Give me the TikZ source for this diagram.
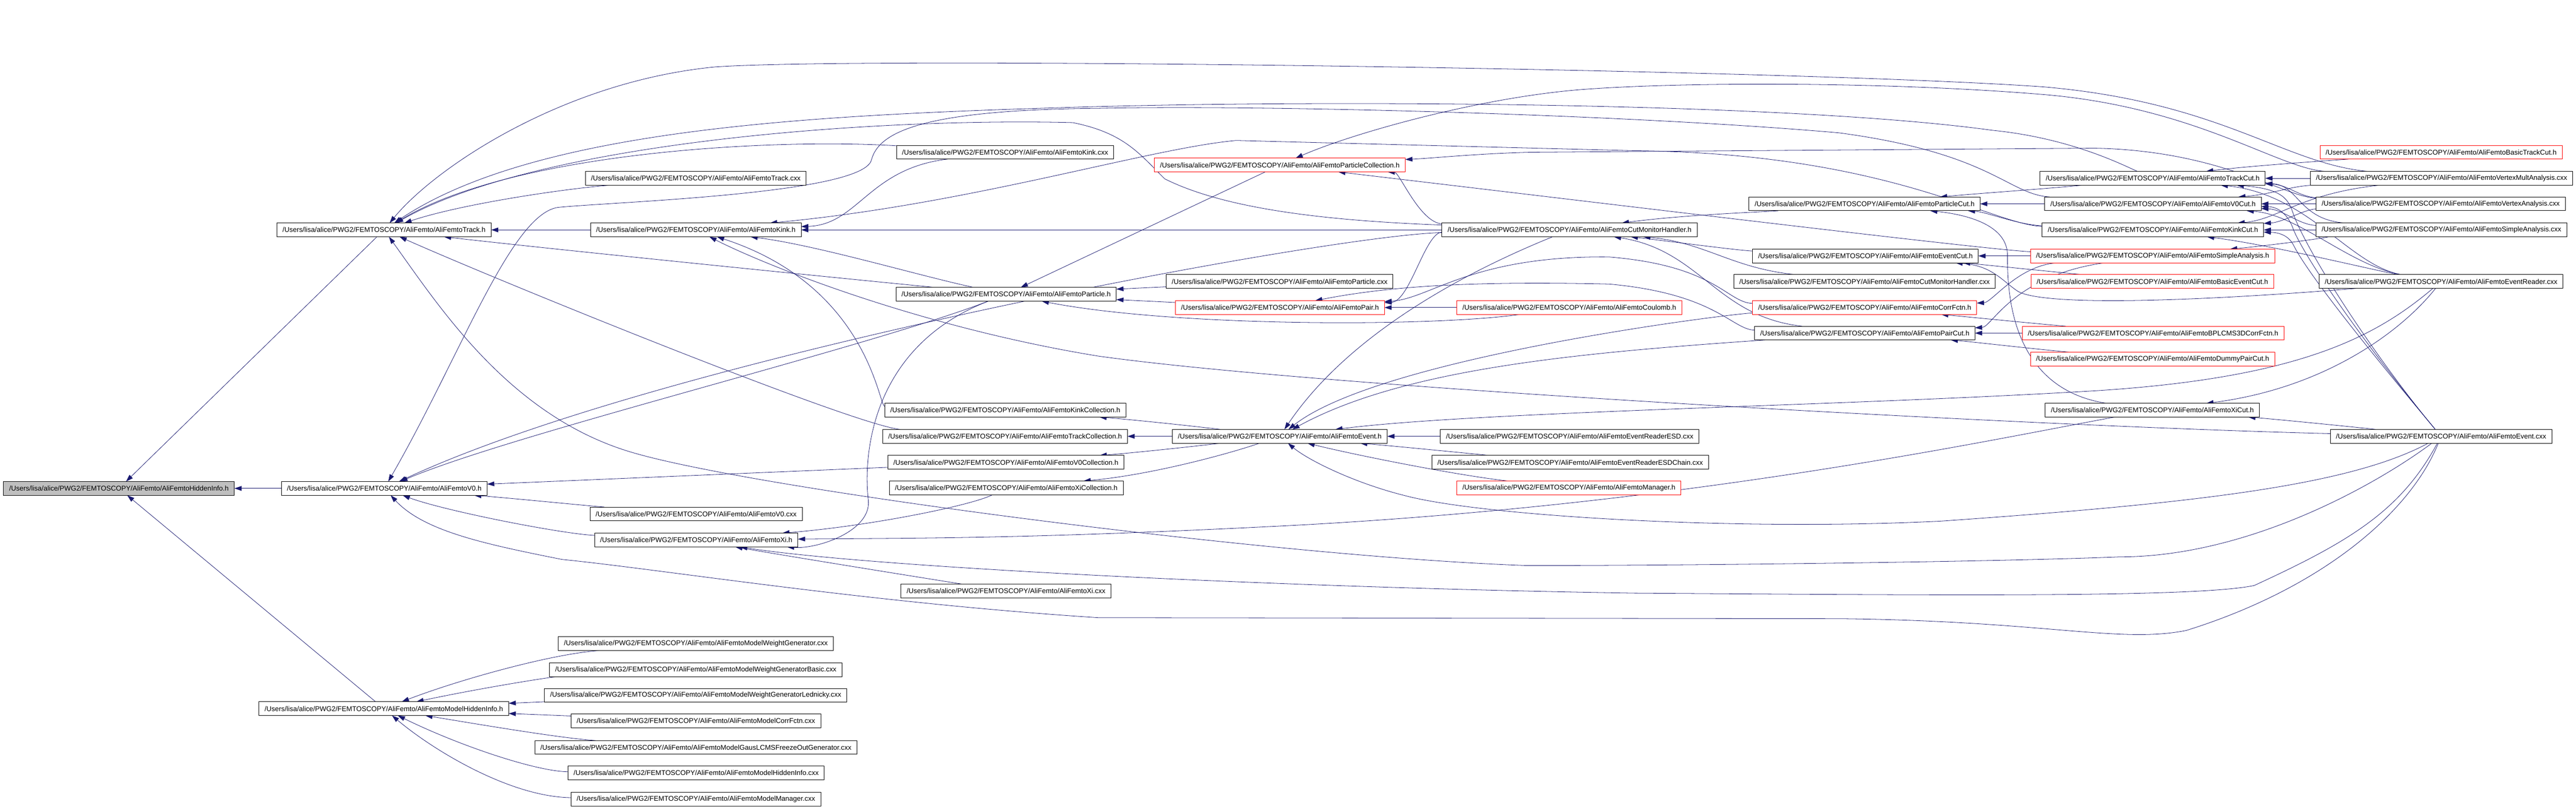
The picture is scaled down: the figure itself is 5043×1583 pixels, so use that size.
\documentclass[tikz,border=0pt]{standalone}
\usepackage{fontspec}
\newfontfamily\dox{Liberation Sans}
\usetikzlibrary{arrows.meta}
\pgfdeclarelayer{edges}
\pgfsetlayers{edges,main}
\definecolor{incblue}{RGB}{25,25,112}
\newcommand{\fp}{/Users/lisa/alice/PWG2/FEMTOSCOPY/AliFemto/}
\tikzset{every picture/.style={line width=0.5pt}}
\tikzset{
  file/.style={draw=black, fill=white, font=\dox\fontsize{6.8}{8}\selectfont, inner xsep=5.5pt, inner ysep=0pt, minimum height=13.5pt, anchor=west, outer sep=0pt},
  truncfile/.style={file, draw=red},
  rootfile/.style={file, fill={rgb,255:red,191;green,191;blue,191}},
  inc/.style={draw=incblue, -{Triangle[length=7pt,width=4.6pt]}}
}
\begin{document}
\begin{tikzpicture}[x=0.5pt,y=0.5pt,yscale=-1]
\useasboundingbox (0,0) rectangle (5043,1583);

%Files, column by column
\node[rootfile] (hid) at (7,956) {\fp AliFemtoHiddenInfo.h};
\node[file] (trk) at (542,450) {\fp AliFemtoTrack.h};
\node[file] (vzero) at (551,956) {\fp AliFemtoV0.h};
\node[file] (mhid) at (507,1387) {\fp AliFemtoModelHiddenInfo.h};
\node[file] (trkcxx) at (1146,349) {\fp AliFemtoTrack.cxx};
\node[file] (kink) at (1156,450) {\fp AliFemtoKink.h};
\node[file] (vzcxx) at (1155,1006) {\fp AliFemtoV0.cxx};
\node[file] (xi) at (1164,1057) {\fp AliFemtoXi.h};
\node[file] (mwg) at (1093,1260) {\fp AliFemtoModelWeightGenerator.cxx};
\node[file] (mwgb) at (1076,1311) {\fp AliFemtoModelWeightGeneratorBasic.cxx};
\node[file] (mwgl) at (1066,1361) {\fp AliFemtoModelWeightGeneratorLednicky.cxx};
\node[file] (mcf) at (1118,1411) {\fp AliFemtoModelCorrFctn.cxx};
\node[file] (mgaus) at (1047,1463) {\fp AliFemtoModelGausLCMSFreezeOutGenerator.cxx};
\node[file] (mhidcxx) at (1112,1513) {\fp AliFemtoModelHiddenInfo.cxx};
\node[file] (mman) at (1118,1564) {\fp AliFemtoModelManager.cxx};
\node[file] (kinkcxx) at (1755,298) {\fp AliFemtoKink.cxx};
\node[file] (part) at (1754,576) {\fp AliFemtoParticle.h};
\node[file] (kinkcoll) at (1732,803) {\fp AliFemtoKinkCollection.h};
\node[file] (trkcoll) at (1728,854) {\fp AliFemtoTrackCollection.h};
\node[file] (vzcoll) at (1738,905) {\fp AliFemtoV0Collection.h};
\node[file] (xicoll) at (1741,955) {\fp AliFemtoXiCollection.h};
\node[file] (xicxx) at (1764,1157) {\fp AliFemtoXi.cxx};
\node[truncfile] (partcoll) at (2260,323) {\fp AliFemtoParticleCollection.h};
\node[file] (partcxx) at (2283,551) {\fp AliFemtoParticle.cxx};
\node[truncfile] (pair) at (2301,602) {\fp AliFemtoPair.h};
\node[file] (ev) at (2295,854) {\fp AliFemtoEvent.h};
\node[file] (cmh) at (2823,450) {\fp AliFemtoCutMonitorHandler.h};
\node[truncfile] (coul) at (2852,602) {\fp AliFemtoCoulomb.h};
\node[file] (esd) at (2820,854) {\fp AliFemtoEventReaderESD.cxx};
\node[file] (esdch) at (2803,905) {\fp AliFemtoEventReaderESDChain.cxx};
\node[truncfile] (man) at (2852,955) {\fp AliFemtoManager.h};
\node[file] (pcut) at (3424,399) {\fp AliFemtoParticleCut.h};
\node[file] (evcut) at (3431,501) {\fp AliFemtoEventCut.h};
\node[file] (cmhcxx) at (3394,551) {\fp AliFemtoCutMonitorHandler.cxx};
\node[truncfile] (corr) at (3431,602) {\fp AliFemtoCorrFctn.h};
\node[file] (paircut) at (3435,652) {\fp AliFemtoPairCut.h};
\node[file] (trkcut) at (3994,349) {\fp AliFemtoTrackCut.h};
\node[file] (vzcut) at (4003,399) {\fp AliFemtoV0Cut.h};
\node[file] (kinkcut) at (3998,450) {\fp AliFemtoKinkCut.h};
\node[truncfile] (sah) at (3975,501) {\fp AliFemtoSimpleAnalysis.h};
\node[truncfile] (bec) at (3976,551) {\fp AliFemtoBasicEventCut.h};
\node[truncfile] (bpl) at (3959,652) {\fp AliFemtoBPLCMS3DCorrFctn.h};
\node[truncfile] (dpc) at (3975,703) {\fp AliFemtoDummyPairCut.h};
\node[file] (xicut) at (4004,803) {\fp AliFemtoXiCut.h};
\node[truncfile] (btc) at (4542,298) {\fp AliFemtoBasicTrackCut.h};
\node[file] (vmacxx) at (4523,349) {\fp AliFemtoVertexMultAnalysis.cxx};
\node[file] (vacxx) at (4534,399) {\fp AliFemtoVertexAnalysis.cxx};
\node[file] (sacxx) at (4534,450) {\fp AliFemtoSimpleAnalysis.cxx};
\node[file] (evrcxx) at (4540,551) {\fp AliFemtoEventReader.cxx};
\node[file] (evcxx) at (4562,854) {\fp AliFemtoEvent.cxx};

\begin{pgfonlayer}{edges}
%into HiddenInfo
\draw[inc] (trk) -- (hid);
\draw[inc] (vzero) -- (hid);
\draw[inc] (mhid) -- (hid);
%into Track
\draw[inc] (vmacxx) .. controls (4470,320) and (4350,200) .. (4000,170) .. controls (3500,135) and (1700,110) .. (1400,131) .. controls (1100,160) and (850,330) .. (trk);
\draw[inc] (trkcut) .. controls (4150,320) and (4050,270) .. (3900,255) .. controls (3500,200) and (2600,195) .. (2100,210) .. controls (1600,225) and (1050,250) .. (trk);
\draw[inc] (cmh) .. controls (2600,432) and (2400,410) .. (2280,350) .. controls (2230,300) and (2200,260) .. (2100,240) .. controls (1700,230) and (1050,280) .. (trk);
\draw[inc] (kinkcxx) .. controls (1500,270) and (1000,300) .. (trk);
\draw[inc] (trkcxx) .. controls (1100,370) and (900,400) .. (trk);
\draw[inc] (kink) -- (trk);
\draw[inc] (part) .. controls (1700,550) and (1100,490) .. (trk);
\draw[inc] (trkcoll) .. controls (1680,835) and (1000,560) .. (trk);
\draw[inc] (evcxx) .. controls (4650,950) and (4400,1090) .. (4150,1090) .. controls (3900,1100) and (3300,1107) .. (2990,1107) .. controls (2500,1090) and (1500,960) .. (1246,888) .. controls (1000,820) and (860,600) .. (trk);
%into V0
\draw[inc] (vzcut) .. controls (3930,380) and (3900,300) .. (3600,260) .. controls (3200,225) and (2500,205) .. (2150,212) .. controls (1800,215) and (1720,260) .. (1706,313) .. controls (1690,380) and (1200,395) .. (1092,406) .. controls (1000,420) and (900,700) .. (vzero);
\draw[inc] (cmh) .. controls (2600,460) and (1300,700) .. (vzero);
\draw[inc] (part) .. controls (1700,680) and (1000,850) .. (vzero);
\draw[inc] (vzcoll) -- (vzero);
\draw[inc] (vzcxx) .. controls (1150,990) and (1000,975) .. (vzero);
\draw[inc] (xi) .. controls (1100,1045) and (870,1000) .. (vzero);
\draw[inc] (evcxx) .. controls (4720,1000) and (4550,1150) .. (4280,1234) .. controls (4150,1260) and (4000,1215) .. (3600,1211) -- (2150,1209) .. controls (1700,1180) and (1300,1115) .. (1100,1095) .. controls (950,1065) and (830,1040) .. (vzero);
%into ModelHiddenInfo
\draw[inc] (mwg) .. controls (1080,1280) and (900,1330) .. (mhid);
\draw[inc] (mwgb) .. controls (1080,1325) and (950,1345) .. (mhid);
\draw[inc] (mwgl) -- (mhid);
\draw[inc] (mcf) -- (mhid);
\draw[inc] (mgaus) .. controls (1100,1445) and (950,1420) .. (mhid);
\draw[inc] (mhidcxx) .. controls (1050,1510) and (900,1460) .. (mhid);
\draw[inc] (mman) .. controls (1000,1560) and (850,1470) .. (mhid);
%into Kink
\draw[inc] (kinkcxx) .. controls (1700,330) and (1680,440) .. (kink);
\draw[inc] (part) .. controls (1800,540) and (1600,480) .. (kink);
\draw[inc] (cmh) -- (kink);
\draw[inc] (kinkcut) .. controls (3900,440) and (3700,300) .. (3200,295) -- (2420,275) .. controls (2250,290) and (1900,400) .. (kink);
\draw[inc] (kinkcoll) .. controls (1720,795) and (1700,560) .. (kink);
\draw[inc] (evcxx) .. controls (4000,835) and (2600,760) .. (2150,697) .. controls (1800,640) and (1500,520) .. (kink);
%into Xi
\draw[inc] (xicoll) .. controls (1900,990) and (1700,1030) .. (xi);
\draw[inc] (xicut) .. controls (3900,860) and (3300,990) .. (2500,1030) .. controls (2000,1055) and (1800,1053) .. (xi);
\draw[inc] (part) .. controls (1700,680) and (1690,900) .. (1700,980) .. controls (1705,1040) and (1600,1075) .. (xi);
\draw[inc] (evcxx) .. controls (4700,1000) and (4600,1060) .. (4413,1146) .. controls (4300,1170) and (3800,1165) .. (3200,1161) .. controls (2500,1150) and (1700,1110) .. (xi);
\draw[inc] (xicxx) .. controls (1800,1130) and (1550,1090) .. (xi);
%into Particle
\draw[inc] (partcxx) -- (part);
\draw[inc] (pair) -- (part);
\draw[inc] (partcoll) -- (part);
\draw[inc] (coul) .. controls (2800,640) and (2300,640) .. (part);
%into Pair
\draw[inc] (coul) -- (pair);
\draw[inc] (cmh) .. controls (2790,455) and (2760,590) .. (pair);
\draw[inc] (corr) .. controls (3380,592) and (3360,520) .. (3150,503) .. controls (2880,500) and (2800,585) .. (pair);
\draw[inc] (paircut) .. controls (3390,645) and (3360,575) .. (3150,556) .. controls (2880,550) and (2720,560) .. (pair);
%into ParticleCollection
\draw[inc] (cmh) .. controls (2780,436) and (2740,338) .. (partcoll);
\draw[inc] (sah) .. controls (3900,490) and (3200,405) .. (partcoll);
\draw[inc] (vacxx) .. controls (4470,385) and (4350,295) .. (4100,290) -- (3000,298) .. controls (2900,300) and (2800,310) .. (partcoll);
\draw[inc] (vmacxx) .. controls (4460,330) and (4300,210) .. (4000,185) .. controls (3700,160) and (3300,160) .. (3100,175) .. controls (2900,190) and (2650,260) .. (partcoll);
%into Event
\draw[inc] (esd) -- (ev);
\draw[inc] (esdch) .. controls (2900,890) and (2750,875) .. (ev);
\draw[inc] (man) .. controls (2850,930) and (2650,890) .. (ev);
\draw[inc] (cmh) .. controls (2900,520) and (2650,640) .. (ev);
\draw[inc] (corr) .. controls (3380,615) and (2700,700) .. (ev);
\draw[inc] (paircut) .. controls (3100,690) and (2750,720) .. (ev);
\draw[inc] (evrcxx) .. controls (4650,660) and (4500,740) .. (4100,765) .. controls (3600,795) and (2900,805) .. (ev);
\draw[inc] (evcxx) .. controls (4600,950) and (4300,985) .. (3800,1020) .. controls (3400,1040) and (2900,1010) .. (2750,970) .. controls (2650,945) and (2560,900) .. (ev);
%into collections
\draw[inc] (ev) .. controls (2300,830) and (2200,820) .. (kinkcoll);
\draw[inc] (ev) -- (trkcoll);
\draw[inc] (ev) .. controls (2300,878) and (2200,888) .. (vzcoll);
\draw[inc] (ev) .. controls (2400,890) and (2250,930) .. (xicoll);
%into CutMonitorHandler
\draw[inc] (pcut) .. controls (3450,415) and (3300,420) .. (cmh);
\draw[inc] (evcut) .. controls (3400,490) and (3250,470) .. (cmh);
\draw[inc] (cmhcxx) .. controls (3390,525) and (3340,475) .. (cmh);
\draw[inc] (paircut) .. controls (3360,620) and (3330,490) .. (cmh);
%into ParticleCut
\draw[inc] (vzcut) -- (pcut);
\draw[inc] (trkcut) .. controls (4000,370) and (3880,378) .. (pcut);
\draw[inc] (kinkcut) .. controls (3950,440) and (3890,415) .. (pcut);
\draw[inc] (xicut) .. controls (3930,760) and (3930,560) .. (3930,500) .. controls (3930,440) and (3850,420) .. (pcut);
%into EventCut, CorrFctn, PairCut
\draw[inc] (sah) -- (evcut);
\draw[inc] (bec) .. controls (4000,530) and (3850,515) .. (evcut);
\draw[inc] (evrcxx) .. controls (4300,590) and (4000,600) .. (3950,570) .. controls (3920,550) and (3900,520) .. (evcut);
\draw[inc] (sah) .. controls (3950,520) and (3900,592) .. (corr);
\draw[inc] (bpl) .. controls (4000,635) and (3850,620) .. (corr);
\draw[inc] (bpl) -- (paircut);
\draw[inc] (sah) .. controls (3940,540) and (3900,640) .. (paircut);
\draw[inc] (dpc) .. controls (4000,685) and (3850,668) .. (paircut);
%into TrackCut
\draw[inc] (btc) .. controls (4550,315) and (4400,325) .. (trkcut);
\draw[inc] (vmacxx) -- (trkcut);
\draw[inc] (vacxx) .. controls (4500,385) and (4480,362) .. (trkcut);
\draw[inc] (sacxx) .. controls (4500,430) and (4500,362) .. (trkcut);
\draw[inc] (evrcxx) .. controls (4600,520) and (4520,380) .. (trkcut);
\draw[inc] (evcxx) .. controls (4650,700) and (4520,500) .. (4490,420) .. controls (4480,390) and (4470,370) .. (trkcut);
%into V0Cut
\draw[inc] (vmacxx) .. controls (4480,365) and (4450,380) .. (vzcut);
\draw[inc] (vacxx) -- (vzcut);
\draw[inc] (sacxx) .. controls (4500,440) and (4470,410) .. (vzcut);
\draw[inc] (evrcxx) .. controls (4600,520) and (4500,420) .. (vzcut);
\draw[inc] (evcxx) .. controls (4650,700) and (4520,520) .. (4490,450) .. controls (4480,420) and (4460,405) .. (vzcut);
%into KinkCut
\draw[inc] (vmacxx) .. controls (4500,380) and (4460,430) .. (kinkcut);
\draw[inc] (vacxx) .. controls (4510,410) and (4470,435) .. (kinkcut);
\draw[inc] (sacxx) -- (kinkcut);
\draw[inc] (evrcxx) .. controls (4650,530) and (4450,480) .. (kinkcut);
\draw[inc] (evcxx) .. controls (4650,700) and (4520,540) .. (4490,480) .. controls (4480,460) and (4460,455) .. (kinkcut);
%into XiCut, SimpleAnalysis
\draw[inc] (evrcxx) .. controls (4700,650) and (4550,760) .. (xicut);
\draw[inc] (evcxx) .. controls (4600,835) and (4450,820) .. (xicut);
\draw[inc] (sacxx) .. controls (4580,462) and (4450,480) .. (sah);
\end{pgfonlayer}

\end{tikzpicture}
\end{document}
